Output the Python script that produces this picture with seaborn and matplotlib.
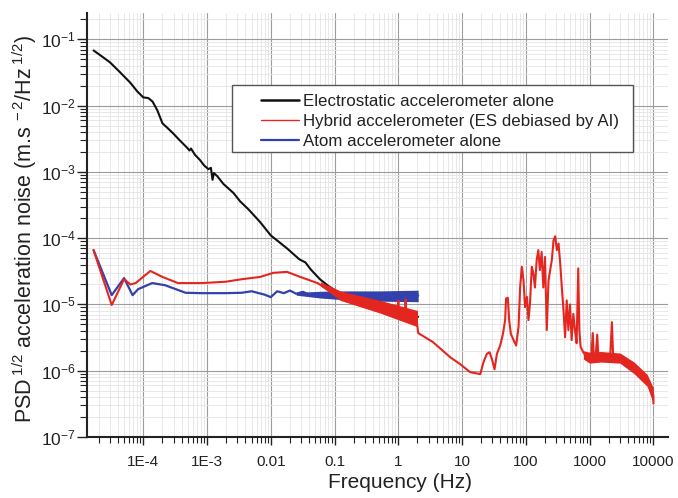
import matplotlib
matplotlib.use("Agg")
import numpy as np
import matplotlib.pyplot as plt
import seaborn as sns
from matplotlib.lines import Line2D
from matplotlib.patches import Rectangle
from matplotlib.ticker import LogLocator, NullFormatter, LogFormatterSciNotation

sns.set_theme(style="white")
plt.rcParams["font.family"] = ["Liberation Sans", "DejaVu Sans"]
plt.rcParams["mathtext.fontset"] = "custom"
plt.rcParams["mathtext.rm"] = "Liberation Sans"
plt.rcParams["mathtext.it"] = "Liberation Sans:italic"

# ---- data (frequency in Hz, noise in m.s-2/Hz1/2) ----
es_freq = [1.66e-5, 2.2e-5, 3.0e-5, 4.3e-5, 6.3e-5, 8.0e-5, 1.0e-4, 1.2e-4, 1.4e-4,
           1.66e-4, 2.0e-4, 2.4e-4, 2.95e-4, 3.6e-4, 4.9e-4, 5.3e-4, 5.6e-4, 6.5e-4,
           7.8e-4, 9.0e-4, 1.05e-3, 1.15e-3, 1.22e-3, 1.28e-3, 1.45e-3, 1.8e-3, 2.6e-3,
           3.3e-3, 4.5e-3, 6.8e-3, 1.0e-2, 1.3e-2, 1.8e-2, 2.8e-2, 3.5e-2, 4.2e-2, 5.9e-2,
           0.08, 0.1, 0.15, 0.25, 0.36, 0.63, 1.07, 2.05]
es_val = [6.8e-2, 5.6e-2, 4.5e-2, 3.2e-2, 2.2e-2, 1.65e-2, 1.33e-2, 1.3e-2, 1.15e-2,
          8.5e-3, 5.4e-3, 4.6e-3, 3.8e-3, 3.1e-3, 2.3e-3, 2.1e-3, 2.25e-3, 1.8e-3,
          1.5e-3, 1.25e-3, 1.1e-3, 1.15e-3, 7.6e-4, 9.6e-4, 8.6e-4, 6.6e-4, 4.8e-4,
          3.6e-4, 2.7e-4, 1.75e-4, 1.1e-4, 9.0e-5, 7.0e-5, 4.8e-5, 4.3e-5, 3.4e-5, 2.4e-5,
          1.9e-5, 1.65e-5, 1.35e-5, 1.15e-5, 1.05e-5, 8.8e-6, 7.5e-6, 6.5e-6]

hyb_freq = [1.66e-5, 3.2e-5, 5.0e-5, 6.3e-5, 7.6e-5, 1.29e-4, 2.0e-4, 3.5e-4, 8.3e-4,
            1.95e-3, 3.5e-3, 6.8e-3, 1.1e-2, 1.8e-2, 2.9e-2, 5.4e-2, 9.5e-2, 0.17, 0.32,
            0.58, 0.97, 1.0, 1.03, 1.28, 1.3, 1.33, 1.95, 2.05, 3.5, 6.5, 9.4, 13.4, 19.3,
            21.7, 24.5, 27, 29.4, 32.3, 35.2, 39.6, 43.8, 47.4, 49, 52.2, 54.8, 58.2, 64.2,
            70.5, 76.9, 81.4, 86.5, 92, 97.5, 104, 110, 116, 124, 131, 139, 148, 157, 166,
            177, 188, 200, 213, 227, 241, 256, 272, 289, 307, 326, 346, 367, 390, 413, 438,
            465, 493, 523, 555, 590, 626, 664, 690, 723, 795, 906, 1000, 1060, 1122, 1170,
            1250, 1318, 1380, 1445, 1650, 1862, 2100, 2239, 2344, 2600, 3020, 3450, 3890,
            4300, 4786, 5400, 6166, 7000, 7943, 8913, 9500, 10000, 10050]
hyb_val = [6.6e-5, 9.8e-6, 2.4e-5, 2.0e-5, 2.1e-5, 3.2e-5, 2.6e-5, 2.1e-5, 2.1e-5,
           2.2e-5, 2.4e-5, 2.6e-5, 3.0e-5, 3.1e-5, 2.6e-5, 2.1e-5, 1.5e-5, 1.15e-5, 9.5e-6,
           7.6e-6, 6.6e-6, 1.15e-5, 6.6e-6, 6.2e-6, 1.2e-5, 6.1e-6, 5.6e-6, 3.7e-6,
           2.7e-6, 1.6e-6, 1.25e-6, 9.5e-7, 8.9e-7,
           1.35e-6, 1.8e-6, 1.9e-6, 1.5e-6, 1.05e-6, 1.8e-6, 2.4e-6, 3.6e-6, 5.8e-6, 1.23e-5,
           1.26e-5, 5.8e-6, 3.6e-6, 2.9e-6, 2.4e-6, 4.6e-6, 1.8e-5, 3.7e-5, 2.3e-5, 9.1e-6,
           1.3e-5, 5.8e-6, 1.0e-5, 3.7e-5, 3.0e-5, 1.8e-5, 4.7e-5, 6.6e-5, 3.3e-5, 6.2e-5,
           1.8e-5, 5.2e-5, 4.1e-6, 2.3e-5, 3.3e-5, 4.7e-5, 9.3e-5, 1.07e-4, 6.6e-5, 8.3e-5,
           4.2e-5, 1.8e-5, 8.1e-6, 3.2e-6, 1.15e-5, 4.1e-6, 1.0e-5, 2.9e-6, 7.2e-6, 4.1e-6,
           2.6e-6, 3.5e-5, 4.1e-6, 2.3e-6, 1.9e-6, 1.6e-6, 1.8e-6, 1.45e-6, 3.7e-6, 1.5e-6,
           1.75e-6, 3.5e-6, 1.5e-6, 1.75e-6, 1.5e-6, 1.7e-6, 1.5e-6, 5.4e-6, 1.6e-6, 1.45e-6,
           1.55e-6, 1.3e-6, 1.35e-6, 1.15e-6, 1.1e-6, 9.5e-7, 9.1e-7, 7.8e-7, 7.2e-7, 6.0e-7,
           4.8e-7, 4.3e-7, 3.2e-7]

atom_freq = [1.66e-5, 3.2e-5, 5.0e-5, 6.8e-5, 8.3e-5, 1.38e-4, 2.2e-4, 4.6e-4, 8.3e-4,
             1.95e-3, 3.5e-3, 5.0e-3, 7.9e-3, 1.0e-2, 1.26e-2, 1.6e-2, 2.0e-2, 2.5e-2,
             3.2e-2, 4.0e-2, 6.3e-2, 0.1, 0.16, 0.25, 0.4, 0.63, 1.0, 1.6, 2.05]
atom_val = [6.6e-5, 1.38e-5, 2.5e-5, 1.38e-5, 1.7e-5, 2.1e-5, 1.95e-5, 1.5e-5, 1.48e-5,
            1.48e-5, 1.5e-5, 1.58e-5, 1.41e-5, 1.29e-5, 1.58e-5, 1.48e-5, 1.62e-5, 1.45e-5,
            1.55e-5, 1.4e-5, 1.41e-5, 1.35e-5, 1.37e-5, 1.34e-5, 1.38e-5, 1.33e-5, 1.36e-5,
            1.38e-5, 1.36e-5]

# noise envelopes of the dense spectra
atom_band_freq = [0.025, 0.06, 0.15, 0.5, 2.05]
atom_band_lo = [1.38e-5, 1.25e-5, 1.17e-5, 1.12e-5, 1.1e-5]
atom_band_hi = [1.52e-5, 1.58e-5, 1.6e-5, 1.6e-5, 1.64e-5]

hyb_band_freq = [0.06, 0.123, 0.52, 2.0]
hyb_band_lo = [1.9e-5, 1.15e-5, 7.4e-6, 4.6e-6]
hyb_band_hi = [2.2e-5, 1.6e-5, 1.15e-5, 8.1e-6]

hyb_hf_freq = [800, 1000, 1500, 3000, 5000, 8000, 10000]
hyb_hf_lo = [1.5e-6, 1.3e-6, 1.35e-6, 1.3e-6, 9.0e-7, 5.8e-7, 3.2e-7]
hyb_hf_hi = [2.0e-6, 1.9e-6, 1.95e-6, 1.85e-6, 1.35e-6, 8.8e-7, 5.5e-7]

x_ticks = [1e-4, 1e-3, 1e-2, 1e-1, 1, 10, 100, 1000, 10000]
x_tick_labels = ["1E-4", "1E-3", "0.01", "0.1", "1", "10", "100", "1000", "10000"]
y_ticks = [1e-7, 1e-6, 1e-5, 1e-4, 1e-3, 1e-2, 1e-1]

labels = ["Electrostatic accelerometer alone",
          "Hybrid accelerometer (ES debiased by AI)",
          "Atom accelerometer alone"]

BLACK = "#111111"
RED = "#e3261f"
BLUE = "#3341ad"
INK = "#222222"

fig = plt.figure(figsize=(6.78, 4.98), dpi=100)
ax = fig.add_axes([0.1283, 0.1225, 0.8570, 0.8515])
ax.set_xscale("log")
ax.set_yscale("log")

ax.fill_between(atom_band_freq, atom_band_lo, atom_band_hi, color=BLUE, lw=0, zorder=2)
sns.lineplot(x=atom_freq, y=atom_val, sort=False, estimator=None, color=BLUE, lw=1.6, ax=ax, zorder=2)

sns.lineplot(x=es_freq, y=es_val, sort=False, estimator=None, color=BLACK, lw=1.5, ax=ax, zorder=2.5)

ax.fill_between(hyb_band_freq, hyb_band_lo, hyb_band_hi, color=RED, lw=0, zorder=3)
ax.fill_between(hyb_hf_freq, hyb_hf_lo, hyb_hf_hi, color=RED, lw=0, zorder=3)
sns.lineplot(x=hyb_freq, y=hyb_val, sort=False, estimator=None, color=RED, lw=1.5, ax=ax, zorder=3)

ax.set_xlim(1.31e-5, 1.7e4)

ax.set_xticks(x_ticks)
ax.set_xticklabels(x_tick_labels)
ax.xaxis.set_minor_locator(LogLocator(base=10, subs=np.arange(2, 10), numticks=30))
ax.xaxis.set_minor_formatter(NullFormatter())
ax.set_yticks(y_ticks)
ax.yaxis.set_major_formatter(LogFormatterSciNotation())
ax.yaxis.set_minor_locator(LogLocator(base=10, subs=np.arange(2, 10), numticks=30))
ax.yaxis.set_minor_formatter(NullFormatter())
ax.set_ylim(1e-7, 0.25)

ax.grid(which="major", color="#9c9c9c", lw=0.8)
ax.grid(which="minor", color="#e4e4e4", lw=0.6)
ax.set_axisbelow(True)

for s in ["top", "right"]:
    ax.spines[s].set_visible(False)
for s in ["left", "bottom"]:
    ax.spines[s].set_color(INK)
    ax.spines[s].set_linewidth(1.5)

ax.tick_params(axis="both", which="both", direction="out", color=INK,
               labelcolor=INK, bottom=True, left=True)
ax.tick_params(axis="x", which="major", length=6, width=1, labelsize=11, pad=7)
ax.tick_params(axis="x", which="minor", length=4, width=0.8)
ax.tick_params(axis="y", which="major", length=7, width=1, labelsize=12.5, pad=1)
ax.tick_params(axis="y", which="minor", length=5, width=0.8)

ax.set_xlabel("Frequency (Hz)", fontsize=15, color=INK)
ax.xaxis.set_label_coords(0.539, -0.085)
ax.set_ylabel(r"PSD$^{\;1/2}$ acceleration noise (m.s$^{\;-2}$/Hz$^{\;1/2}$)",
              fontsize=15.5, color=INK)
ax.yaxis.set_label_coords(-0.082, 0.49)

# legend with a hand-sized frame
ax.add_patch(Rectangle((0.2496, 0.672), 0.690, 0.158, transform=ax.transAxes,
                       facecolor="white", edgecolor="#555555", lw=1.0, zorder=6))
handles = [Line2D([], [], color=BLACK, lw=1.8),
           Line2D([], [], color=RED, lw=1.0),
           Line2D([], [], color=BLUE, lw=1.6)]
leg = ax.legend(handles, labels, loc="upper left", bbox_to_anchor=(0.300, 0.810),
                frameon=False, fontsize=12.2, handlelength=2.2, handletextpad=0.25,
                labelspacing=0.3, borderpad=0, borderaxespad=0)
leg.set_zorder(7)
for t in leg.get_texts():
    t.set_color(INK)

fig.savefig("out.png", dpi=100)
